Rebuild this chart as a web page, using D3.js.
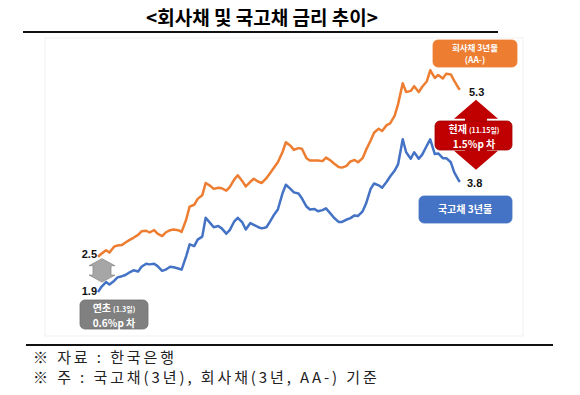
<!DOCTYPE html>
<html>
<head>
<meta charset="utf-8">
<script src="https://cdn.jsdelivr.net/npm/d3@7"></script>
<style>
  body { margin: 0; background: #fff; }
  svg text { font-family: "Noto Sans CJK KR", sans-serif; }
</style>
</head>
<body>
<svg id="chart" width="580" height="395"></svg>
<script>
// 날짜 (2022년, 월-일)
var dates = ["01-03","01-06","01-10","01-13","01-17","01-20","01-24","01-27","01-31",
  "02-03","02-07","02-10","02-14","02-17","02-21","02-24","02-28",
  "03-03","03-07","03-10","03-14","03-17","03-21","03-24","03-28","03-31",
  "04-04","04-07","04-11","04-14","04-18","04-21","04-25","04-28",
  "05-02","05-05","05-09","05-12","05-16","05-19","05-23","05-26","05-30",
  "06-02","06-06","06-09","06-13","06-16","06-20","06-23","06-27","06-30",
  "07-04","07-07","07-11","07-14","07-18","07-21","07-25","07-28",
  "08-01","08-04","08-08","08-11","08-15","08-18","08-22","08-25","08-29",
  "09-01","09-05","09-08","09-12","09-15","09-19","09-22","09-26","09-29",
  "10-03","10-06","10-10","10-13","10-17","10-20","10-24","10-27","10-31",
  "11-03","11-07","11-10","11-14","11-15"];

// 회사채 3년물 (AA-)
var corpRates = [2.50,2.55,2.61,2.57,2.67,2.69,2.70,2.74,2.79,
  2.82,2.87,2.93,2.94,2.91,2.95,2.89,2.85,
  2.91,2.95,2.96,2.95,2.92,3.13,3.35,3.38,3.48,
  3.54,3.75,3.70,3.65,3.67,3.66,3.62,3.68,
  3.81,3.88,3.78,3.69,3.77,3.82,3.77,3.75,3.83,
  3.91,4.02,4.10,4.27,4.44,4.38,4.31,4.34,4.33,
  4.17,4.13,4.13,4.13,4.12,4.18,4.13,4.08,
  4.02,4.01,4.04,4.11,4.14,4.10,4.17,4.31,4.47,
  4.60,4.67,4.63,4.73,4.76,4.89,5.09,5.44,5.29,
  5.31,5.39,5.29,5.38,5.47,5.66,5.53,5.58,5.52,
  5.60,5.59,5.48,5.35,5.33];

// 국고채 3년물
var govRates = [1.90,1.99,2.07,2.03,2.09,2.15,2.17,2.19,2.24,
  2.27,2.25,2.33,2.38,2.37,2.38,2.34,2.26,
  2.28,2.33,2.32,2.30,2.28,2.51,2.71,2.68,2.79,
  2.84,3.16,3.07,3.00,3.02,2.98,2.89,2.95,
  3.10,3.16,3.08,2.96,3.07,3.04,3.00,2.98,3.00,
  3.09,3.22,3.30,3.57,3.72,3.65,3.59,3.57,3.49,
  3.35,3.30,3.31,3.27,3.29,3.32,3.23,3.16,
  3.09,3.09,3.13,3.15,3.20,3.19,3.27,3.40,3.65,
  3.74,3.71,3.67,3.77,3.86,3.96,4.07,4.49,4.27,
  4.16,4.27,4.16,4.23,4.38,4.49,4.24,4.25,4.17,
  4.17,4.10,3.93,3.79,3.77];

var title = "<회사채 및 국고채 금리 추이>";
var notes = ["※ 자료 : 한국은행", "※ 주 : 국고채(3년), 회사채(3년, AA-) 기준"];

var svg = d3.select("#chart");
var parseDate = d3.timeParse("%Y-%m-%d");
var data = dates.map(function(d, i) {
  return { date: parseDate("2022-" + d), corp: corpRates[i], gov: govRates[i] };
});

// 스케일
var x = d3.scaleTime()
  .domain(d3.extent(data, function(d) { return d.date; }))
  .range([98, 460]);
var y = d3.scaleLinear()
  .domain([1.5, 6.0])
  .range([315.7, 50.2]);

// 제목
svg.append("text")
  .attr("x", 262).attr("y", 25)
  .attr("text-anchor", "middle")
  .style("font-size", "19px").style("font-weight", "bold")
  .text(title);
svg.append("line")
  .attr("x1", 23).attr("x2", 498).attr("y1", 32).attr("y2", 32)
  .attr("stroke", "#111").attr("stroke-width", 2);

// 차트 테두리 (아주 옅게)
svg.append("rect")
  .attr("x", 45).attr("y", 38).attr("width", 478).attr("height", 298)
  .attr("fill", "none").attr("stroke", "#f1f1f1");

// 선
var lineCorp = d3.line()
  .x(function(d) { return x(d.date); })
  .y(function(d) { return y(d.corp); });
var lineGov = d3.line()
  .x(function(d) { return x(d.date); })
  .y(function(d) { return y(d.gov); });

svg.append("path").datum(data)
  .attr("d", lineCorp)
  .attr("fill", "none").attr("stroke", "#ED7D31")
  .attr("stroke-width", 2.5).attr("stroke-linejoin", "round");
svg.append("path").datum(data)
  .attr("d", lineGov)
  .attr("fill", "none").attr("stroke", "#4472C4")
  .attr("stroke-width", 2.5).attr("stroke-linejoin", "round");

var first = data[0], last = data[data.length - 1];

// 값 라벨
function valueLabel(px, py, txt, anchor) {
  svg.append("text")
    .attr("x", px).attr("y", py)
    .attr("text-anchor", anchor)
    .style("font-family", "Arial, 'Liberation Sans', sans-serif")
    .style("font-size", "11px").style("font-weight", "bold")
    .attr("fill", "#111")
    .text(txt);
}
valueLabel(x(first.date) - 1, y(first.corp) + 1, d3.format(".1f")(first.corp), "end");
valueLabel(x(first.date) - 1, y(first.gov) + 3, d3.format(".1f")(first.gov), "end");
valueLabel(x(last.date) + 9, y(last.corp) + 6, d3.format(".1f")(last.corp), "start");
valueLabel(x(last.date) + 7, y(last.gov) + 5, d3.format(".1f")(last.gov), "start");

// 양방향 화살표
function doubleArrow(cx, top, bottom, headW, headH, shaftW) {
  var p = d3.path();
  p.moveTo(cx, top);
  p.lineTo(cx + headW, top + headH);
  p.lineTo(cx + shaftW, top + headH);
  p.lineTo(cx + shaftW, bottom - headH);
  p.lineTo(cx + headW, bottom - headH);
  p.lineTo(cx, bottom);
  p.lineTo(cx - headW, bottom - headH);
  p.lineTo(cx - shaftW, bottom - headH);
  p.lineTo(cx - shaftW, top + headH);
  p.lineTo(cx - headW, top + headH);
  p.closePath();
  return p.toString();
}

// 연초 차이 (회색)
svg.append("path")
  .attr("d", doubleArrow(x(first.date) + 4, y(first.corp) + 2, y(first.gov) - 10, 13, 7, 9))
  .attr("fill", "#A6A6A6").attr("stroke", "#8c8c8c").attr("stroke-width", 0.8);

// 현재 차이 (빨강)
svg.append("path")
  .attr("d", doubleArrow(x(last.date) + 16, y(last.corp) + 10, y(last.gov) - 12, 22, 19, 11))
  .attr("fill", "#C00000");

// 라벨 박스
function labelBox(bx, by, bw, bh, fill, stroke) {
  svg.append("rect")
    .attr("x", bx).attr("y", by).attr("width", bw).attr("height", bh)
    .attr("rx", 5).attr("ry", 5)
    .attr("fill", fill).attr("stroke", stroke).attr("stroke-width", 0.8);
}
function boxText(tx, ty, txt, size) {
  svg.append("text")
    .attr("x", tx).attr("y", ty)
    .attr("text-anchor", "middle")
    .attr("fill", "#fff").style("font-weight", "bold")
    .style("font-size", size + "px")
    .text(txt);
}
// 큰 글자 + 작은 글자 (괄호 날짜) 를 한 줄에 가운데 정렬
function boxText2(tx, ty, big, small) {
  var a = svg.append("text")
    .attr("y", ty).attr("fill", "#fff").style("font-weight", "bold")
    .style("font-size", "10px").text(big);
  var b = svg.append("text")
    .attr("y", ty - 0.5).attr("fill", "#fff").style("font-weight", "bold")
    .style("font-size", "7px").text(small);
  var wa = a.node().getComputedTextLength();
  var wb = b.node().getComputedTextLength();
  var gap = 2;
  var x0 = tx - (wa + wb + gap) / 2;
  a.attr("x", x0);
  b.attr("x", x0 + wa + gap);
}

// 회사채 라벨
labelBox(433, 40, 84, 27, "#ED7D31", "#ED7D31");
boxText(475, 50.5, "회사채 3년물", 8.5);
boxText(475, 63, "(AA-)", 8.5);

// 국고채 라벨
labelBox(419, 196, 93, 27, "#4472C4", "#4472C4");
boxText(465, 213, "국고채 3년물", 10);

// 현재 차이 박스
labelBox(435, 121, 77, 29, "#C00000", "#a00000");
boxText2(474, 133, "현재", "(11.15일)");
boxText(474, 147.7, "1.5%p 차", 10);

// 연초 차이 박스
labelBox(80, 300, 68, 29, "#808080", "#6e6e6e");
boxText2(114, 312, "연초", "(1.3일)");
boxText(114, 326.7, "0.6%p 차", 10);

// 하단 주석
svg.append("line")
  .attr("x1", 26).attr("x2", 553).attr("y1", 345).attr("y2", 345)
  .attr("stroke", "#111").attr("stroke-width", 2);
notes.forEach(function(n, i) {
  svg.append("text")
    .attr("x", 33).attr("y", 363 + i * 20)
    .style("font-size", "15px")
    .style("letter-spacing", "2.9px")
    .attr("fill", "#222")
    .text(n);
});
</script>
</body>
</html>
